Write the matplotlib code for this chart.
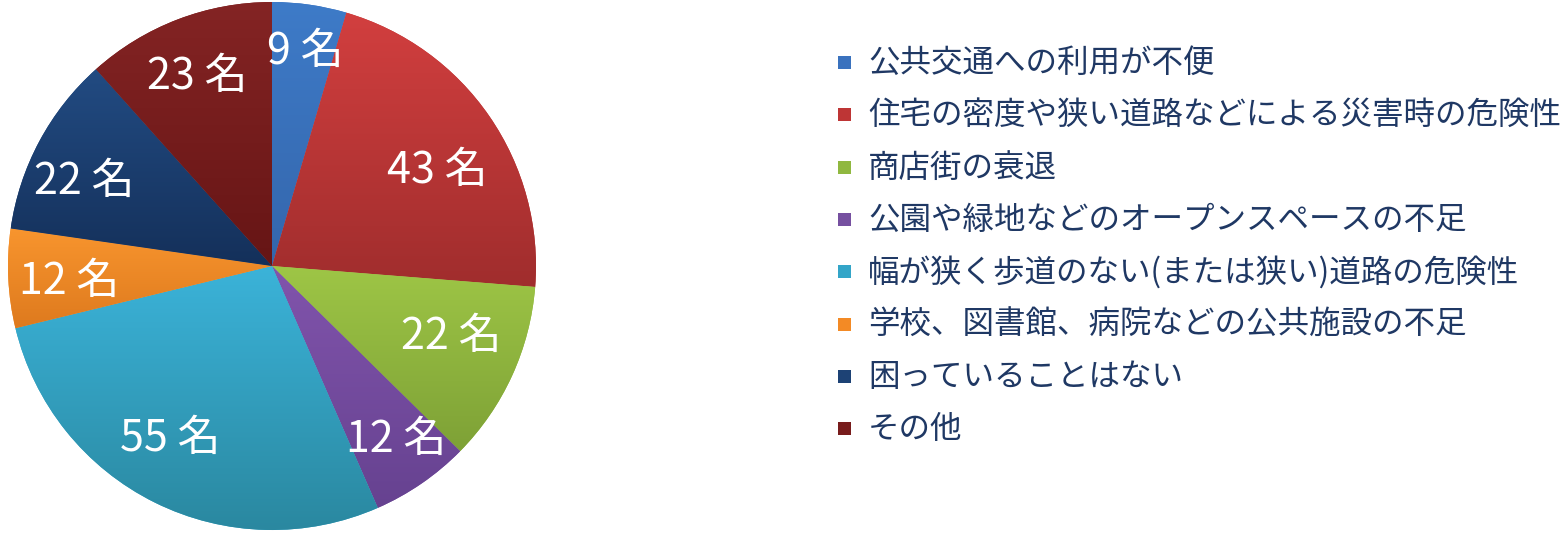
import matplotlib
matplotlib.use("Agg")
import matplotlib.pyplot as plt
import numpy as np
from matplotlib.colors import LinearSegmentedColormap
from matplotlib.patches import Rectangle

plt.rcParams['font.family'] = ['Noto Sans CJK JP', 'DejaVu Sans']

# ---- data ----
categories = [
    "公共交通への利用が不便",
    "住宅の密度や狭い道路などによる災害時の危険性",
    "商店街の衰退",
    "公園や緑地などのオープンスペースの不足",
    "幅が狭く歩道のない(または狭い)道路の危険性",
    "学校、図書館、病院などの公共施設の不足",
    "困っていることはない",
    "その他",
]
counts = [9, 43, 22, 12, 55, 12, 22, 23]
unit = "名"

# ---- style ----
base_colors = ["#3A72BE", "#BE3535", "#90B840", "#7650A0", "#33A5C8", "#F38A25", "#1D4275", "#781C1C"]
top_colors = ["#3E7BC8", "#D23F3F", "#9EC646", "#8154AC", "#3BB3D9", "#F8952E", "#224B82", "#842424"]
bot_colors = ["#3466AC", "#A02D2D", "#7EA136", "#664290", "#2A88A0", "#DE7A1E", "#14305A", "#661515"]
label_radius = [0.82, 0.72, 0.73, 0.81, 0.76, 0.77, 0.78, 0.77]
label_shift_deg = [0.6, 4.7, -2.9, -1.0, 4.0, -1.8, -4.2, -0.6]  # clockwise shift
text_color = "#1F3864"

W, H = 1565, 533
fig = plt.figure(figsize=(W / 100, H / 100), dpi=100)
fig.patch.set_facecolor("white")

# legend layer in pixel coordinates
lax = fig.add_axes([0, 0, 1, 1])
lax.set_xlim(0, W)
lax.set_ylim(H, 0)
lax.axis("off")
row0, row_step = 63, 52.3
for i, (lab, col) in enumerate(zip(categories, base_colors)):
    y = row0 + row_step * i
    lax.add_patch(Rectangle((838, y - 7), 13, 13, facecolor=col, edgecolor="none"))
    lax.text(868, y, lab, fontsize=22.7, color=text_color, va="center", ha="left")

# pie
ax = fig.add_axes([8 / W, 3 / H, 528 / W, 528 / H])
total = sum(counts)
wedges, texts, autotexts = ax.pie(
    counts, startangle=90, counterclock=False, colors=base_colors,
    autopct=lambda p: f"{int(round(p * total / 100))} {unit}",
    pctdistance=0.77, radius=1.0,
    wedgeprops=dict(linewidth=0),
    textprops=dict(color="white", fontsize=31),
)
for w, tc, bc in zip(wedges, top_colors, bot_colors):
    bb = w.get_path().get_extents(w.get_patch_transform())
    cmap = LinearSegmentedColormap.from_list("g", [bc, tc])
    grad = np.linspace(0, 1, 256).reshape(-1, 1)
    im = ax.imshow(grad, cmap=cmap, origin="lower", aspect="auto",
                   extent=(bb.x0, bb.x1, bb.y0, bb.y1), zorder=1.5)
    im.set_clip_path(w)
for w, t, r, s in zip(wedges, autotexts, label_radius, label_shift_deg):
    mid = np.deg2rad((w.theta1 + w.theta2) / 2 - s)
    t.set_position((r * np.cos(mid), r * np.sin(mid)))
    t.set_zorder(4)
ax.set_xlim(-1, 1)
ax.set_ylim(-1, 1)
ax.set_aspect("equal")
ax.axis("off")

fig.savefig("out.png", dpi=100, facecolor="white")
